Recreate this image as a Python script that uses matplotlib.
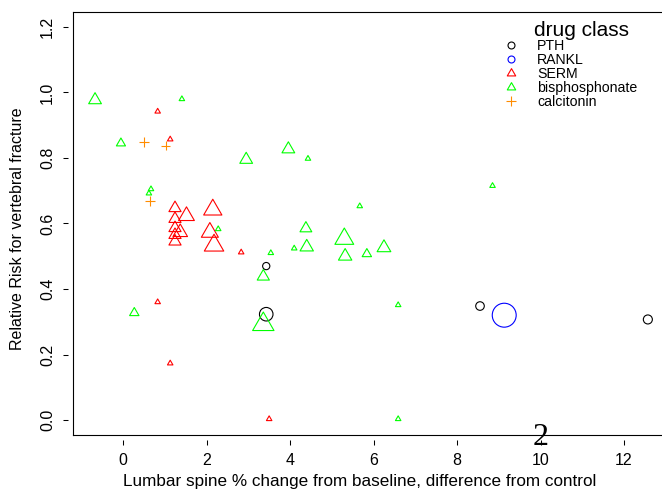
# Relative risk of vertebral fracture vs lumbar spine BMD change, by drug class
import matplotlib
matplotlib.use("Agg")
import matplotlib.pyplot as plt
from matplotlib.path import Path
from matplotlib.lines import Line2D

plt.rcParams['font.family'] = ['Liberation Sans', 'DejaVu Sans']

# study data (x = % change from control, y = relative risk, cex = symbol size / weight)
pth_x = [3.43, 3.43, 8.55, 12.57]
pth_y = [0.470, 0.323, 0.348, 0.307]
pth_cex = [0.8, 1.5, 0.95, 1.0]

rankl_x = [9.13]
rankl_y = [0.320]
rankl_cex = [2.65]

serm_x = [0.83, 1.13, 0.83, 1.13, 3.50, 2.83,
          1.245, 1.52, 2.15, 1.245, 1.245, 1.37, 1.245, 1.245, 2.08, 2.18]
serm_y = [0.942, 0.857, 0.360, 0.173, 0.003, 0.512,
          0.647, 0.623, 0.642, 0.614, 0.586, 0.573, 0.565, 0.545, 0.573, 0.533]
serm_cex = [0.45, 0.45, 0.45, 0.45, 0.45, 0.45,
            1.0, 1.3, 1.5, 1.0, 1.0, 1.2, 1.0, 1.0, 1.4, 1.6]

bis_x = [-0.67, 1.41, -0.05, 2.95, 3.96, 4.43, 0.67, 0.62, 5.67, 8.85, 2.28, 4.38,
         5.30, 4.10, 4.40, 5.32, 5.84, 6.25, 3.54, 3.36, 3.36, 0.27, 6.59, 6.59]
bis_y = [0.977, 0.980, 0.845, 0.795, 0.827, 0.798, 0.705, 0.692, 0.653, 0.715, 0.583, 0.585,
         0.553, 0.524, 0.528, 0.500, 0.507, 0.526, 0.510, 0.438, 0.292, 0.327, 0.351, 0.003]
bis_cex = [1.05, 0.45, 0.75, 1.05, 1.05, 0.45, 0.45, 0.45, 0.45, 0.45, 0.45, 0.97,
           1.55, 0.45, 1.1, 1.1, 0.77, 1.13, 0.45, 1.0, 1.76, 0.77, 0.45, 0.45]

calc_x = [0.50, 1.02, 0.65]
calc_y = [0.849, 0.838, 0.669]
calc_cex = [0.73, 0.73, 0.73]

classes = ['PTH', 'RANKL', 'SERM', 'bisphosphonate', 'calcitonin']
colors = ['black', '#0000FF', '#FF0000', '#00FF00', '#FF8C00']

xticks = [0, 2, 4, 6, 8, 10, 12]
yticks = [0.0, 0.2, 0.4, 0.6, 0.8, 1.0, 1.2]

# R style equilateral triangle (pch = 2), centred on its centroid
tri = Path([(0, 1), (-0.866, -0.5), (0.866, -0.5), (0, 1)],
           [Path.MOVETO, Path.LINETO, Path.LINETO, Path.CLOSEPOLY])

# marker size (points) per unit cex
TRI_K = 10.1
CIRC_K = 6.5
PLUS_K = 9.2

fig = plt.figure(figsize=(6.62, 4.9), dpi=100)
ax = fig.add_axes([73 / 662, 55 / 490, 607 / 662, 423 / 490])
ax.set_xlim(-1.198, 13.34)
ax.set_ylim(-0.0458, 1.2458)


def pts(ms_list, k):
    return [(k * c) ** 2 for c in ms_list]


ax.scatter(pth_x, pth_y, s=pts(pth_cex, CIRC_K), marker='o', facecolors='none',
           edgecolors=colors[0], linewidths=0.8)
ax.scatter(rankl_x, rankl_y, s=pts(rankl_cex, CIRC_K), marker='o', facecolors='none',
           edgecolors=colors[1], linewidths=0.8)
ax.scatter(serm_x, serm_y, s=pts(serm_cex, TRI_K), marker=tri, facecolors='none',
           edgecolors=colors[2], linewidths=0.8)
ax.scatter(bis_x, bis_y, s=pts(bis_cex, TRI_K), marker=tri, facecolors='none',
           edgecolors=colors[3], linewidths=0.8)
ax.scatter(calc_x, calc_y, s=pts(calc_cex, PLUS_K), marker='+',
           color=colors[4], linewidths=0.8)

# axes in R look: detached ticks, L frame plus top line
for side in ['left', 'bottom']:
    ax.spines[side].set_position(('outward', 3.4))
    ax.spines[side].set_color('none')
ax.spines['right'].set_visible(False)
ax.spines['top'].set_linewidth(0.8)
ax.plot([0, 0], [0, 1], color='black', lw=0.8, transform=ax.transAxes, clip_on=False)
ax.plot([0, 1], [0, 0], color='black', lw=0.8, transform=ax.transAxes, clip_on=False)

ax.set_xticks(xticks)
ax.set_yticks(yticks)
ax.set_yticklabels([f"{v:.1f}" for v in yticks], rotation=90, va='center')
ax.tick_params(direction='out', length=3.6, width=0.75, labelsize=11.5, pad=6)

ax.set_xlabel("Lumbar spine % change from baseline, difference from control", fontsize=12.3)
ax.xaxis.set_label_coords((359.5 - 73) / 607, -(481 - 435) / 423)
ax.xaxis.label.set_va('center')
ax.set_ylabel("Relative Risk for vertebral fracture", fontsize=11.5)
ax.yaxis.set_label_coords(-(73 - 18) / 607, (435 - 229) / 423)
ax.yaxis.label.set_va('center')

# legend
handles = [
    Line2D([], [], marker='o', color=colors[0], ls='none', mfc='none', ms=5.0, mew=0.8),
    Line2D([], [], marker='o', color=colors[1], ls='none', mfc='none', ms=5.0, mew=0.8),
    Line2D([], [], marker=tri, color=colors[2], ls='none', mfc='none', ms=7.0, mew=0.8),
    Line2D([], [], marker=tri, color=colors[3], ls='none', mfc='none', ms=7.0, mew=0.8),
    Line2D([], [], marker='+', color=colors[4], ls='none', ms=7.0, mew=0.8),
]
leg = ax.legend(handles, classes, loc='upper left', bbox_to_anchor=(504 / 662, 1 - 39 / 490),
                bbox_transform=fig.transFigure, frameon=False, fontsize=10.2,
                handlelength=1.0, handletextpad=1.35, labelspacing=0.0,
                borderpad=0, borderaxespad=0)
fig.text(534 / 662, 1 - 30.5 / 490, "drug class", fontsize=15.0, va='center', ha='left')

# stray label drawn over the axis
ax.text(10.0, -0.052, "2", family='Liberation Serif', fontsize=23,
        ha='center', va='center', clip_on=False)

fig.savefig("out.png", dpi=100)
